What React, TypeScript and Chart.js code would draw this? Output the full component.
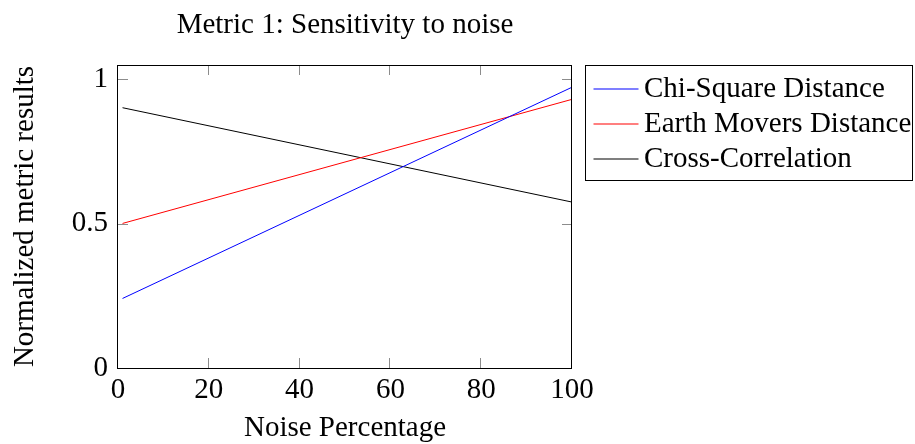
import React, { useEffect, useRef } from "react";
import { Chart, registerables } from "chart.js";

Chart.register(...registerables);

const noisePercent = [1, 100];
const chiSquare = [0.241, 0.973];
const earthMovers = [0.501, 0.931];
const crossCorrelation = [0.902, 0.575];
const seriesLabels = ["Chi-Square Distance", "Earth Movers Distance", "Cross-Correlation"];
const seriesColors = ["#0000ff", "#ff0000", "#000000"];
const xTicks = [0, 20, 40, 60, 80, 100];
const yTicks = [0, 0.5, 1];
const titleText = "Metric 1: Sensitivity to noise";
const xTitle = "Noise Percentage";
const yTitle = "Normalized metric results";

const FONT = '"Liberation Serif", "Times New Roman", serif';
const FS = 29;

const framePlugin = {
  id: "frame",
  afterDatasetsDraw(chart: any) {
    const { ctx, chartArea: a, scales } = chart;
    ctx.save();
    // inward ticks
    ctx.strokeStyle = "#8c8c8c";
    ctx.lineWidth = 1;
    const L = 10;
    ctx.beginPath();
    for (const v of xTicks) {
      const x = Math.round(scales.x.getPixelForValue(v)) - 0.5;
      ctx.moveTo(x, a.bottom);
      ctx.lineTo(x, a.bottom - L);
      ctx.moveTo(x, a.top);
      ctx.lineTo(x, a.top + L);
    }
    for (const v of yTicks) {
      const y = Math.round(scales.y.getPixelForValue(v)) + 0.5;
      ctx.moveTo(a.left, y);
      ctx.lineTo(a.left + L, y);
      ctx.moveTo(a.right, y);
      ctx.lineTo(a.right - L, y);
    }
    ctx.stroke();
    // frame
    ctx.strokeStyle = "#000";
    ctx.strokeRect(
      Math.round(a.left) - 0.5,
      Math.round(a.top) + 0.5,
      Math.round(a.right - a.left),
      Math.round(a.bottom - a.top)
    );
    // title
    ctx.fillStyle = "#000";
    ctx.font = `${FS}px ${FONT}`;
    ctx.textAlign = "center";
    ctx.textBaseline = "alphabetic";
    ctx.fillText(titleText, (a.left + a.right) / 2, 33);
    // legend
    const bx = 585.5;
    const by = 65.5;
    const bw = 327;
    const bh = 115;
    ctx.strokeStyle = "#000";
    ctx.lineWidth = 1;
    ctx.strokeRect(bx, by, bw, bh);
    ctx.font = `${FS}px ${FONT}`;
    ctx.textAlign = "left";
    seriesLabels.forEach((label, i) => {
      const ly = 89 + i * 35;
      ctx.strokeStyle = seriesColors[i];
      ctx.lineWidth = 1.2;
      ctx.beginPath();
      ctx.moveTo(bx + 8, ly);
      ctx.lineTo(bx + 53, ly);
      ctx.stroke();
      ctx.fillStyle = "#000";
      ctx.fillText(label, bx + 58.5, 97 + i * 35);
    });
    ctx.restore();
  },
};

export default function App() {
  const ref = useRef<HTMLCanvasElement>(null);
  useEffect(() => {
    const series = [chiSquare, earthMovers, crossCorrelation];
    const chart = new Chart(ref.current!, {
      type: "line",
      data: {
        datasets: series.map((vals, i) => ({
          label: seriesLabels[i],
          data: noisePercent.map((x, j) => ({ x, y: vals[j] })),
          borderColor: seriesColors[i],
          backgroundColor: seriesColors[i],
          borderWidth: 1,
          pointRadius: 0,
          tension: 0,
          fill: false,
        })),
      },
      plugins: [framePlugin],
      options: {
        responsive: false,
        animation: false,
        layout: { padding: { top: 65, right: 343, left: 0, bottom: 0 } },
        plugins: {
          legend: { display: false },
          title: { display: false },
          tooltip: { enabled: false },
        },
        scales: {
          x: {
            type: "linear",
            min: 0,
            max: 100,
            grid: { display: false, drawTicks: false },
            border: { display: false },
            afterBuildTicks: (s: any) => {
              s.ticks = xTicks.map((v) => ({ value: v }));
            },
            afterFit: (s: any) => {
              s.height = 76;
            },
            ticks: {
              autoSkip: false,
              maxRotation: 0,
              padding: 5,
              color: "#000",
              font: { family: FONT, size: FS, lineHeight: 1.2 },
              callback: (v: any) => String(v),
            },
            title: {
              display: true,
              text: xTitle,
              color: "#000",
              font: { family: FONT, size: FS, lineHeight: 1 },
              padding: { top: 0, bottom: 1 },
            },
          },
          y: {
            type: "linear",
            min: 0,
            max: 1.05,
            grid: { display: false, drawTicks: false },
            border: { display: false },
            afterBuildTicks: (s: any) => {
              s.ticks = yTicks.map((v) => ({ value: v }));
            },
            afterFit: (s: any) => {
              s.width = 118;
            },
            ticks: {
              padding: 10,
              color: "#000",
              font: { family: FONT, size: FS },
              callback: (v: any) => String(v),
            },
            title: {
              display: true,
              text: yTitle,
              color: "#000",
              font: { family: FONT, size: FS, lineHeight: 1 },
              padding: { top: 11, bottom: 0 },
            },
          },
        },
      },
    });
    return () => chart.destroy();
  }, []);
  return (
    <div style={{ position: "fixed", left: 0, top: 0, width: 915, height: 444 }}>
      <canvas ref={ref} width={915} height={444} style={{ display: "block" }} />
    </div>
  );
}
